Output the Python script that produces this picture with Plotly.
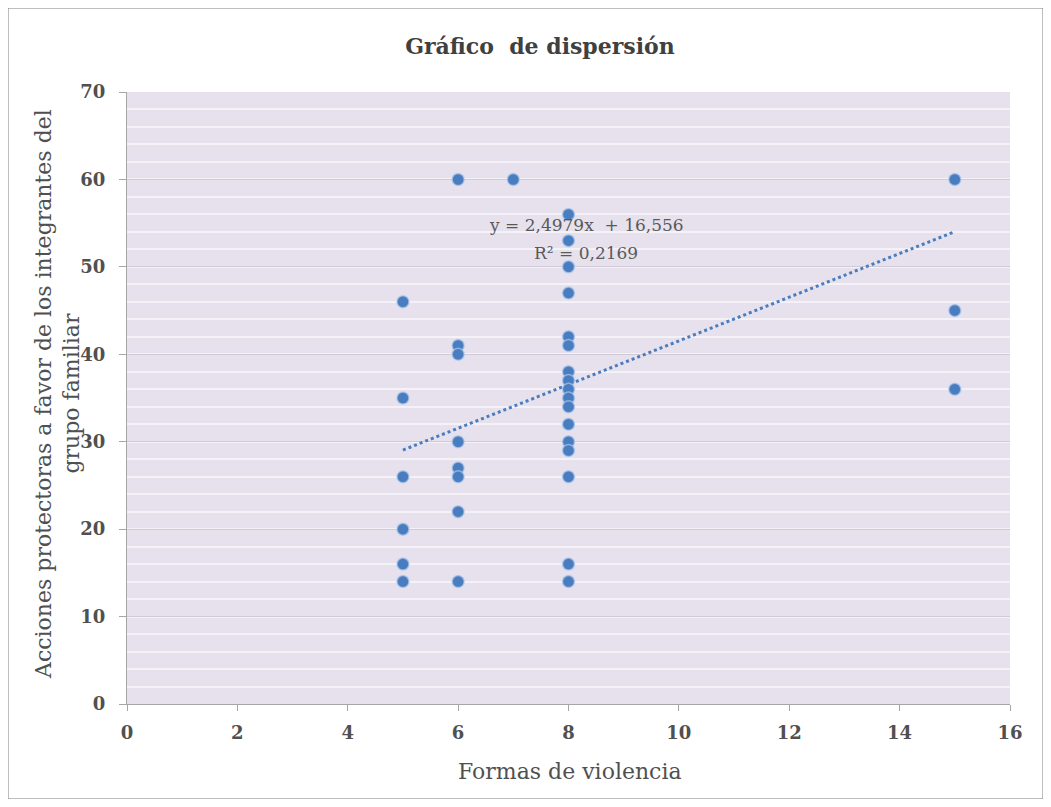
import plotly.graph_objects as go

# Data
formas_violencia = [5, 5, 5, 5, 5, 5,
                    6, 6, 6, 6, 6, 6, 6, 6,
                    7,
                    8, 8, 8, 8, 8, 8, 8, 8, 8, 8, 8, 8, 8, 8, 8, 8, 8,
                    15, 15, 15]
acciones_protectoras = [46, 35, 26, 20, 16, 14,
                        60, 41, 40, 30, 27, 26, 22, 14,
                        60,
                        56, 53, 50, 47, 42, 41, 38, 37, 36, 35, 34, 32, 30, 29, 26, 16, 14,
                        60, 45, 36]
trend_slope = 2.4979
trend_intercept = 16.556
r_squared_label = "R² = 0,2169"
equation_label = "y = 2,4979x  + 16,556"
x_ticks = [0, 2, 4, 6, 8, 10, 12, 14, 16]
y_ticks = [0, 10, 20, 30, 40, 50, 60, 70]

FONT = "DejaVu Serif"
TXT = "#505050"

x0, x1 = min(formas_violencia), max(formas_violencia)
trend_x = [x0, x1]
trend_y = [trend_intercept + trend_slope * v for v in trend_x]

fig = go.Figure()
fig.add_trace(go.Scatter(
    x=trend_x, y=trend_y, mode="lines",
    line=dict(color="#4A7DBF", width=3, dash="dot"),
    hoverinfo="skip", showlegend=False))
fig.add_trace(go.Scatter(
    x=formas_violencia, y=acciones_protectoras, mode="markers",
    marker=dict(color="#4A7DBF", size=12, line=dict(color="rgba(170,198,235,0.7)", width=1.5)),
    showlegend=False))

fig.add_annotation(x=8.32, y=54.8, text=equation_label, showarrow=False,
                   font=dict(family=FONT, size=17, color="#595959"))
fig.add_annotation(x=8.32, y=51.6, text=r_squared_label, showarrow=False,
                   font=dict(family=FONT, size=17, color="#595959"))

# axis titles
fig.add_annotation(xref="paper", yref="paper", x=0.502, y=-0.111,
                   text="Formas de violencia", showarrow=False,
                   xanchor="center", yanchor="middle",
                   font=dict(family=FONT, size=22, color=TXT))
fig.add_annotation(xref="paper", yref="paper", x=-0.079, y=0.507,
                   text="Acciones protectoras a favor de los integrantes del<br>grupo familiar",
                   showarrow=False, textangle=-90,
                   xanchor="center", yanchor="middle",
                   font=dict(family=FONT, size=22, color=TXT))

fig.update_layout(
    width=1035, height=791,
    margin=dict(l=119, r=33, t=84, b=95),
    paper_bgcolor="white",
    plot_bgcolor="#E6E1EC",
    title=dict(text="<b>Gráfico  de dispersión</b>", x=0.514, xanchor="center",
               y=0.952, yanchor="middle",
               font=dict(family=FONT, size=22, color="#404040")),
    xaxis=dict(range=[0, 16], tickvals=x_ticks, showgrid=False, zeroline=False,
               showline=True, linecolor="#A6A6A6", linewidth=1,
               ticks="outside", tickcolor="#A6A6A6", ticklen=6,
               ticklabelstandoff=6,
               tickfont=dict(family=FONT, size=18, color=TXT, weight="bold")),
    yaxis=dict(range=[0, 70], tickvals=y_ticks, zeroline=False,
               showgrid=True, gridcolor="#CFCAD6", gridwidth=1,
               minor=dict(dtick=2, showgrid=True, gridcolor="#F4F1F7", gridwidth=1.5),
               showline=True, linecolor="#A6A6A6", linewidth=1,
               ticks="outside", tickcolor="#A6A6A6", ticklen=7,
               ticklabelstandoff=10,
               tickfont=dict(family=FONT, size=18, color=TXT, weight="bold")),
)

fig.add_shape(type="rect", xref="paper", yref="paper",
              x0=-119/883, x1=1+33/883, y0=-95/612, y1=1+84/612,
              line=dict(color="#7F7F7F", width=1), fillcolor="rgba(0,0,0,0)", layer="below")

fig.write_html("out.html")
